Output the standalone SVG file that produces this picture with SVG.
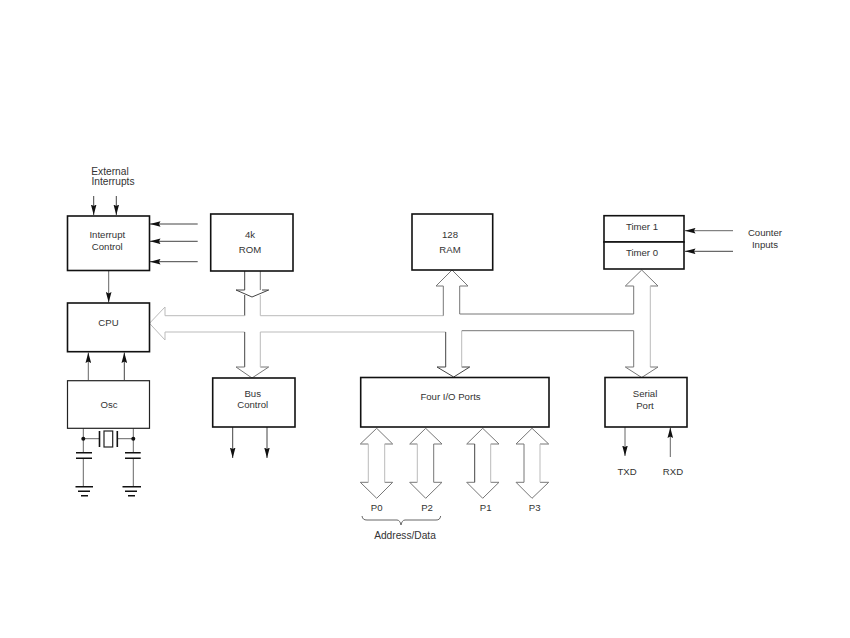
<svg xmlns="http://www.w3.org/2000/svg" width="850" height="638" viewBox="0 0 850 638">
<style>
text{font-family:"Liberation Sans",Arial,sans-serif;font-size:9.6px;fill:#333;text-anchor:middle}
.big{font-size:10.2px}
.box{fill:#fff;stroke:#111;stroke-width:1.6}
.thin{fill:#fff;stroke:#222;stroke-width:1.2}
.d{fill:none;stroke:#777;stroke-width:1}
.l{fill:none;stroke:#bbb;stroke-width:1}
.a{fill:none;stroke:#444;stroke-width:1}
.k{fill:none;stroke:#111;stroke-width:1.6}
.g{fill:none;stroke:#666;stroke-width:1}
</style>
<defs>
<marker id="h" markerUnits="userSpaceOnUse" markerWidth="11" markerHeight="6" refX="10.500" refY="3" orient="auto"><path d="M0 .2L1.500 3L0 5.800L10.500 3Z" fill="#111"/></marker>
</defs>
<g id="connectors">
<path class="a" d="M93.700 196V215" marker-end="url(#h)"/>
<path class="a" d="M116.300 196V215" marker-end="url(#h)"/>
<path class="a" d="M197.700 224H150" marker-end="url(#h)"/>
<path class="a" d="M197.700 241.300H150" marker-end="url(#h)"/>
<path class="a" d="M197.700 261.700H150" marker-end="url(#h)"/>
<path class="g" d="M108.700 271V302.500" marker-end="url(#h)"/>
<path class="g" d="M88.300 380V352.500" marker-end="url(#h)"/>
<path class="a" d="M124.300 380V352.500" marker-end="url(#h)"/>
<path class="a" d="M232.700 427V458" marker-end="url(#h)"/>
<path class="a" d="M267 427V458" marker-end="url(#h)"/>
<path class="g" d="M625 427V456" marker-end="url(#h)"/>
<path class="g" d="M670.300 457V427.500" marker-end="url(#h)"/>
<path class="g" d="M733 230.700H685" marker-end="url(#h)"/>
<path class="a" d="M733 251.300H685" marker-end="url(#h)"/>
<g id="bus">
<path class="a" d="M244.700 271V290H236L252 297L268.700 290H262"/>
<path class="d" d="M260.300 271V290"/>
<path class="a" d="M244.700 295V315.700"/>
<path class="l" d="M244.700 315.700H165V307L149.500 323.300L165 340V332H244.700"/>
<path class="a" d="M244.700 332V367"/>
<path class="d" d="M236 367L252 378L268.700 367"/>
<path class="d" d="M236 367H244.700M260.300 367H268.700"/>
<path class="l" d="M260.300 295V315.700H443.300"/>
<path class="d" d="M443.300 315.700V286H436L452 270L468 286H459.700V314H633.700V286H625.300L641.700 270L658 286H650.300"/>
<path class="l" d="M650.300 286V367"/>
<path class="l" d="M260.300 332V367"/>
<path class="l" d="M260.300 332H445.700"/>
<path class="a" d="M445.700 332V367H437L453.700 377L469.700 367H461.700"/>
<path class="l" d="M461.700 367V331"/>
<path class="d" d="M461.700 330.700H633.700V367H625.300L641.700 377.500L658 367H650.300"/>
</g>
<g id="ports">
<path class="d" d="M368.300 444H360.300L376.700 428.300L392.700 444H384.700M384.700 482.300H392.700L376.700 498.300L360.300 482.300H368.300"/>
<path class="l" d="M368.300 444V482.300M384.700 444V482.300"/>
<path class="d" d="M417.300 444H409.700L425.700 428.300L442 444H433.700V482.300H442L425.700 498.300L409.700 482.300H417.300"/>
<path class="l" d="M417.300 444V482.300"/>
<path class="d" d="M474.700 444H466.700L482.700 428.300L499 444H490.700M490.700 482.300H499L482.700 498.300L466.700 482.300H474.700"/>
<path class="a" d="M474.700 444V482.300"/>
<path class="l" d="M490.700 444V482.300"/>
<path class="d" d="M524 444H516L532 428.300L548.700 444H540M540 482.300H548.700L532 498.300L516 482.300H524V444"/>
<path class="l" d="M540 444V482.300"/>
<path class="g" d="M362 516C362.500 519 364 520 367 520H397C399 520 400.500 522 401 525C401.500 522 403 520 405 520H436C439 520 440 519 440.700 516"/>
</g>
<g id="oscillator">
<path class="g" d="M83.300 428V452.700M133.300 428V452.700M83.300 458.300V486.700M133.300 458.300V486.700"/>
<path class="g" d="M83.300 438.700H99.300M117.300 438.700H133.300"/>
<circle cx="83.300" cy="438.700" r="2" fill="#111"/>
<circle cx="133.300" cy="438.700" r="2" fill="#111"/>
<path class="k" d="M99.500 431V447M117.300 431V447"/>
<rect x="104" y="431" width="8.700" height="16" fill="#fff" stroke="#222" stroke-width="1.200"/>
<path class="k" d="M76 452.700H92M76 458.300H92M125 452.700H140.700M125 458.300H140.700"/>
<path class="k" d="M75.500 486.700H93M78 491.200H90M81 495.700H88M122.500 486.700H141M125 491.200H137M128 495.700H135"/>
</g>
</g>
<g id="interrupt-control"><rect class="box" x="67.500" y="216" width="82" height="54.500"/><text x="107.300" y="238">Interrupt</text><text x="107.300" y="250">Control</text></g>
<g id="external-interrupts"><text class="big" x="110" y="174.700">External</text><text class="big" x="113" y="185.300">Interrupts</text></g>
<g id="rom"><rect class="box" x="210.700" y="214" width="82.300" height="57"/><text x="250" y="237.700">4k</text><text x="250" y="252.700">ROM</text></g>
<g id="ram"><rect class="box" x="412" y="214" width="80.700" height="56"/><text x="450" y="237.700">128</text><text x="450" y="252.700">RAM</text></g>
<g id="timers"><rect class="box" x="604" y="215.700" width="80" height="26.300"/><rect class="box" x="604" y="242" width="80" height="27"/><text x="642" y="230">Timer 1</text><text x="642" y="256">Timer 0</text></g>
<g id="counter-inputs"><text x="765" y="235.700">Counter</text><text x="765" y="247.700">Inputs</text></g>
<g id="cpu"><rect class="box" x="67.500" y="303" width="82" height="48.700"/><text x="108.500" y="326">CPU</text></g>
<g id="osc"><rect class="thin" x="67.500" y="380.700" width="82" height="47.600"/><text x="109" y="408.300">Osc</text></g>
<g id="bus-control"><rect class="box" x="212.700" y="378" width="82.300" height="49"/><text x="252.700" y="396.700">Bus</text><text x="252.700" y="408.300">Control</text></g>
<g id="four-io-ports"><rect class="box" x="360.700" y="377.500" width="188.300" height="49.500"/><text x="450.500" y="400">Four I/O Ports</text></g>
<g id="serial-port"><rect class="box" x="605" y="377.500" width="82" height="49.500"/><text x="645" y="397">Serial</text><text x="645" y="409">Port</text></g>
<g id="labels">
<text x="376.700" y="511">P0</text><text x="427" y="511">P2</text><text x="485.700" y="511">P1</text><text x="534.700" y="511">P3</text>
<text class="big" x="405" y="538.700">Address/Data</text>
<text x="627" y="475">TXD</text><text x="673" y="475">RXD</text>
</g>
</svg>
